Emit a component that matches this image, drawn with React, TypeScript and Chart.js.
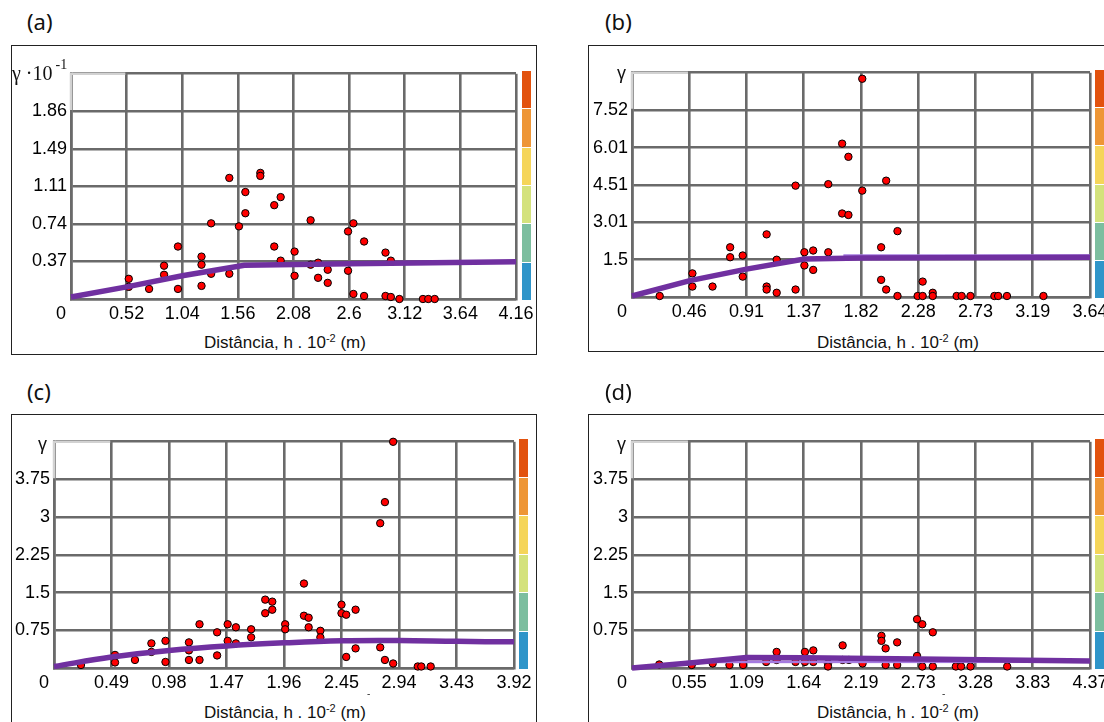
import React, { useEffect, useRef } from "react";
import { Chart, registerables } from "chart.js";
Chart.register(...registerables);

// ---------------- DATA ----------------
// Panel (a)
const aXTicks = [0, 0.52, 1.04, 1.56, 2.08, 2.6, 3.12, 3.64, 4.16];
const aXLabels = ["0", "0.52", "1.04", "1.56", "2.08", "2.6", "3.12", "3.64", "4.16"];
const aYTicks = [0, 0.372, 0.744, 1.116, 1.488, 1.86, 2.232];
const aYLabels = ["", "0.37", "0.74", "1.11", "1.49", "1.86", ""];
const aPtX = [0.54, 0.54, 0.73, 0.87, 0.87, 1.0, 1.0, 1.22, 1.22, 1.22, 1.31, 1.31, 1.48, 1.48, 1.57, 1.63, 1.63, 1.77, 1.77, 1.9, 1.96, 1.9, 1.96, 2.09, 2.09, 2.24, 2.24, 2.31, 2.31, 2.4, 2.4, 2.59, 2.64, 2.59, 2.64, 2.74, 2.74, 2.94, 2.99, 2.94, 2.99, 3.07, 3.29, 3.34, 3.4];
const aPtY = [0.2, 0.12, 0.1, 0.33, 0.24, 0.52, 0.1, 0.42, 0.34, 0.13, 0.25, 0.75, 1.2, 0.25, 0.72, 1.06, 0.85, 1.25, 1.22, 0.93, 1.01, 0.52, 0.38, 0.47, 0.23, 0.78, 0.34, 0.36, 0.21, 0.29, 0.16, 0.67, 0.75, 0.28, 0.05, 0.57, 0.03, 0.46, 0.38, 0.03, 0.02, 0.0, 0.0, 0.0, 0.0];
const aModelX = [0, 0.52, 1.04, 1.62, 2.6, 4.16];
const aModelY = [0.02, 0.12, 0.23, 0.335, 0.35, 0.37];
const aModel2X: number[] = [];
const aModel2Y: number[] = [];

// Panel (b)
const bXTicks = [0, 0.455, 0.91, 1.365, 1.82, 2.275, 2.73, 3.185, 3.64];
const bXLabels = ["0", "0.46", "0.91", "1.37", "1.82", "2.28", "2.73", "3.19", "3.64"];
const bYTicks = [0, 1.503, 3.007, 4.51, 6.013, 7.517, 9.02];
const bYLabels = ["", "1.5", "3.01", "4.51", "6.01", "7.52", ""];
const bPtX = [0.22, 0.48, 0.48, 0.64, 0.78, 0.78, 0.88, 0.88, 1.07, 1.07, 1.07, 1.15, 1.15, 1.3, 1.3, 1.37, 1.37, 1.44, 1.44, 1.56, 1.56, 1.67, 1.67, 1.72, 1.72, 1.83, 1.83, 2.02, 1.98, 1.98, 2.02, 2.11, 2.11, 2.27, 2.31, 2.31, 2.39, 2.39, 2.58, 2.62, 2.69, 2.88, 2.91, 2.98, 3.27];
const bPtY = [0.04, 0.95, 0.42, 0.42, 2.0, 1.6, 1.67, 0.82, 2.52, 0.42, 0.3, 1.5, 0.17, 4.48, 0.3, 1.8, 1.27, 1.87, 1.09, 4.54, 1.8, 6.17, 3.36, 5.64, 3.3, 8.78, 4.28, 4.68, 2.0, 0.69, 0.3, 2.65, 0.04, 0.04, 0.04, 0.62, 0.17, 0.04, 0.04, 0.04, 0.04, 0.04, 0.04, 0.04, 0.04];
const bModelX = [0, 0.46, 0.91, 1.37, 1.82, 3.64];
const bModelY = [0.04, 0.66, 1.12, 1.53, 1.57, 1.6];
const bModel2X = [1.68, 3.64];
const bModel2Y = [1.67, 1.67];

// Panel (c)
const cXTicks = [0, 0.49, 0.98, 1.47, 1.96, 2.45, 2.94, 3.43, 3.92];
const cXLabels = ["0", "0.49", "0.98", "1.47", "1.96", "2.45", "2.94", "3.43", "3.92"];
const cYTicks = [0, 0.75, 1.5, 2.25, 3, 3.75, 4.5];
const cYLabels = ["", "0.75", "1.5", "2.25", "3", "3.75", ""];
const cPtX = [0.23, 0.52, 0.52, 0.69, 0.83, 0.83, 0.95, 0.95, 1.15, 1.15, 1.15, 1.24, 1.24, 1.39, 1.39, 1.48, 1.48, 1.55, 1.55, 1.68, 1.68, 1.8, 1.8, 1.86, 1.86, 1.97, 1.97, 2.13, 2.13, 2.17, 2.17, 2.27, 2.27, 2.45, 2.45, 2.49, 2.49, 2.57, 2.57, 2.78, 2.78, 2.82, 2.82, 2.89, 2.89, 3.1, 3.13, 3.21];
const cPtY = [0.06, 0.26, 0.11, 0.16, 0.49, 0.32, 0.54, 0.12, 0.51, 0.35, 0.16, 0.87, 0.16, 0.71, 0.25, 0.87, 0.54, 0.81, 0.49, 0.77, 0.61, 1.36, 1.09, 1.32, 1.16, 0.87, 0.77, 1.68, 1.04, 1.0, 0.81, 0.74, 0.61, 1.26, 1.09, 1.06, 0.22, 1.16, 0.39, 2.88, 0.41, 3.3, 0.16, 4.5, 0.09, 0.03, 0.03, 0.03];
const cModelX = [0, 0.49, 0.98, 1.47, 1.96, 2.45, 2.94, 3.43, 3.92];
const cModelY = [0.03, 0.22, 0.35, 0.44, 0.5, 0.54, 0.545, 0.53, 0.52];
const cModel2X: number[] = [];
const cModel2Y: number[] = [];

// Panel (d)
const dXTicks = [0, 0.54625, 1.0925, 1.63875, 2.185, 2.73125, 3.2775, 3.82375, 4.37];
const dXLabels = ["0", "0.55", "1.09", "1.64", "2.19", "2.73", "3.28", "3.83", "4.37"];
const dYTicks = [0, 0.75, 1.5, 2.25, 3, 3.75, 4.5];
const dYLabels = ["", "0.75", "1.5", "2.25", "3", "3.75", ""];
const dPtX = [0.26, 0.57, 0.77, 0.93, 1.06, 1.06, 1.28, 1.38, 1.38, 1.56, 1.65, 1.65, 1.73, 1.73, 1.87, 1.87, 2.01, 2.01, 2.07, 2.2, 2.38, 2.38, 2.42, 2.42, 2.53, 2.53, 2.72, 2.77, 2.72, 2.77, 2.87, 2.87, 3.09, 3.14, 3.23, 3.58];
const dPtY = [0.07, 0.06, 0.09, 0.06, 0.11, 0.06, 0.12, 0.32, 0.16, 0.12, 0.32, 0.12, 0.35, 0.12, 0.09, 0.03, 0.45, 0.16, 0.16, 0.09, 0.64, 0.54, 0.39, 0.06, 0.51, 0.06, 0.97, 0.87, 0.24, 0.03, 0.71, 0.03, 0.03, 0.03, 0.03, 0.03];
const dModelX = [0, 0.55, 1.09, 1.64, 2.73, 4.37];
const dModelY = [0, 0.1, 0.21, 0.205, 0.18, 0.14];
const dModel2X = [0.52, 4.37];
const dModel2Y = [0.12, 0.125];

const panelLetters = ["(a)", "(b)", "(c)", "(d)"];
const xTitleMain = "Distância, h . 10";
const xTitleSup = "-2";
const xTitleEnd = " (m)";

// ---------------- STYLE / LAYOUT ----------------
const SANS = '"Liberation Sans", Arial, sans-serif';
const SERIF = '"Liberation Serif", "Times New Roman", serif';
const GRID = "#6a6a6a";
const PURPLE = "#7030A0";
const PURPLE_LIGHT = "#A57BE0";
const CB_COLORS = ["#E2520E", "#EE9636", "#F5D55A", "#D4E27C", "#7CBE9F", "#2F95C9"];
const YW = 50;
const XH = 30;
const PADT = 12;
const PADR = 22;

type PanelCfg = {
  id: number;
  L: number; T: number; R: number; B: number;
  box: { x: number; y: number; w: number; h: number };
  label: { x: number; y: number };
  cbX: number; cbW: number;
  xTitleCx: number; xTitleCy: number;
  yTitle: { x: number; y: number; serif: boolean };
  dash?: { x: number; y: number };
  xTicks: number[]; xLabels: string[]; yTicks: number[]; yLabels: string[];
  ptX: number[]; ptY: number[]; mX: number[]; mY: number[]; m2X: number[]; m2Y: number[]; tension: number;
};

const PANELS: PanelCfg[] = [
  {
    id: 0, L: 71, T: 71, R: 516, B: 299,
    box: { x: 11, y: 45, w: 526, h: 310 }, label: { x: 27, y: 8 },
    cbX: 522, cbW: 9, xTitleCx: 285, xTitleCy: 343,
    yTitle: { x: 12, y: 63, serif: true },
    xTicks: aXTicks, xLabels: aXLabels, yTicks: aYTicks, yLabels: aYLabels,
    ptX: aPtX, ptY: aPtY, mX: aModelX, mY: aModelY, m2X: aModel2X, m2Y: aModel2Y, tension: 0,
  },
  {
    id: 1, L: 632, T: 70, R: 1090, B: 297,
    box: { x: 588, y: 45, w: 560, h: 307 }, label: { x: 605, y: 8 },
    cbX: 1095, cbW: 10, xTitleCx: 898, xTitleCy: 343,
    yTitle: { x: 617, y: 63, serif: false },
    xTicks: bXTicks, xLabels: bXLabels, yTicks: bYTicks, yLabels: bYLabels,
    ptX: bPtX, ptY: bPtY, mX: bModelX, mY: bModelY, m2X: bModel2X, m2Y: bModel2Y, tension: 0,
  },
  {
    id: 2, L: 54, T: 439, R: 514, B: 668,
    box: { x: 11, y: 414, w: 526, h: 400 }, label: { x: 27, y: 378 },
    cbX: 519, cbW: 9, xTitleCx: 285, xTitleCy: 713,
    yTitle: { x: 38, y: 434, serif: false }, dash: { x: 370, y: 695 },
    xTicks: cXTicks, xLabels: cXLabels, yTicks: cYTicks, yLabels: cYLabels,
    ptX: cPtX, ptY: cPtY, mX: cModelX, mY: cModelY, m2X: cModel2X, m2Y: cModel2Y, tension: 0.4,
  },
  {
    id: 3, L: 632, T: 439, R: 1090, B: 668,
    box: { x: 588, y: 414, w: 560, h: 400 }, label: { x: 605, y: 378 },
    cbX: 1095, cbW: 10, xTitleCx: 898, xTitleCy: 713,
    yTitle: { x: 617, y: 434, serif: false }, dash: { x: 945, y: 695 },
    xTicks: dXTicks, xLabels: dXLabels, yTicks: dYTicks, yLabels: dYLabels,
    ptX: dPtX, ptY: dPtY, mX: dModelX, mY: dModelY, m2X: dModel2X, m2Y: dModel2Y, tension: 0,
  },
];

const cornerPlugin = {
  id: "cornerLight",
  beforeDatasetsDraw(chart: any) {
    const { ctx, chartArea, scales } = chart;
    const xs = scales.x;
    const ys = scales.y;
    const xt = xs.ticks;
    const yt = ys.ticks;
    ctx.save();
    ctx.strokeStyle = "#d2d2d2";
    ctx.lineWidth = 2.5;
    ctx.beginPath();
    ctx.moveTo(chartArea.left - 1, chartArea.top);
    ctx.lineTo(xs.getPixelForValue(xt[1].value) - 1.3, chartArea.top);
    ctx.moveTo(chartArea.left, chartArea.top - 1);
    ctx.lineTo(chartArea.left, ys.getPixelForValue(yt[yt.length - 2].value) - 1.3);
    ctx.stroke();
    ctx.restore();
  },
};

function Panel({ p }: { p: PanelCfg }) {
  const ref = useRef<HTMLCanvasElement | null>(null);
  const cw = YW + (p.R - p.L) + PADR;
  const ch = PADT + (p.B - p.T) + XH;

  useEffect(() => {
    if (!ref.current) return;
    const xMax = p.xTicks[p.xTicks.length - 1];
    const yMax = p.yTicks[p.yTicks.length - 1];
    const tickFont = { family: SANS, size: 18 };
    const chart = new Chart(ref.current, {
      type: "scatter",
      data: {
        datasets: [
          {
            data: p.mX.map((x, i) => ({ x, y: p.mY[i] })),
            showLine: true,
            pointRadius: 0,
            borderColor: PURPLE,
            backgroundColor: PURPLE,
            borderWidth: 5.5,
            tension: p.tension,
            clip: false,
            order: 0,
          } as any,
          {
            data: p.m2X.map((x, i) => ({ x, y: p.m2Y[i] })),
            showLine: true,
            pointRadius: 0,
            borderColor: PURPLE_LIGHT,
            backgroundColor: PURPLE_LIGHT,
            borderWidth: 2.5,
            clip: false,
            order: 1,
          } as any,
          {
            data: p.ptX.map((x, i) => ({ x, y: p.ptY[i] })),
            showLine: false,
            pointRadius: 3.7,
            pointBackgroundColor: "#ff0000",
            backgroundColor: "#ff0000",
            pointBorderColor: "#000000",
            borderColor: "#000000",
            pointBorderWidth: 1,
            clip: false,
            order: 2,
          } as any,
        ],
      },
      options: {
        animation: false,
        responsive: false,
        maintainAspectRatio: false,
        layout: { padding: { left: 0, top: PADT, right: PADR, bottom: 0 } },
        plugins: { legend: { display: false }, tooltip: { enabled: false } },
        scales: {
          x: {
            type: "linear",
            min: 0,
            max: xMax,
            afterBuildTicks: (s: any) => {
              s.ticks = p.xTicks.map((v) => ({ value: v }));
            },
            afterFit: (s: any) => {
              s.height = XH;
            },
            ticks: {
              autoSkip: false,
              maxRotation: 0,
              minRotation: 0,
              padding: 4,
              color: "#000",
              font: tickFont,
              callback: (_v: any, i: number) => (i === 0 ? p.xLabels[0] + "    " : p.xLabels[i]),
            },
            grid: { color: GRID, lineWidth: 2.6, drawTicks: false },
            border: { color: GRID, width: 2.6 },
          },
          y: {
            type: "linear",
            min: 0,
            max: yMax,
            afterBuildTicks: (s: any) => {
              s.ticks = p.yTicks.map((v) => ({ value: v }));
            },
            afterFit: (s: any) => {
              s.width = YW;
            },
            ticks: {
              autoSkip: false,
              padding: 4,
              color: "#000",
              font: tickFont,
              callback: (_v: any, i: number) => p.yLabels[i],
            },
            grid: { color: GRID, lineWidth: 2.6, drawTicks: false },
            border: { color: GRID, width: 2.6 },
          },
        },
      } as any,
      plugins: [cornerPlugin],
    });
    return () => chart.destroy();
  }, []);

  return (
    <>
      <div
        style={{
          position: "absolute",
          left: p.box.x,
          top: p.box.y,
          width: p.box.w,
          height: p.box.h,
          border: "1px solid #222",
          boxSizing: "border-box",
        }}
      />
      <div
        style={{
          position: "absolute",
          left: p.label.x,
          top: p.label.y,
          fontFamily: '"Noto Sans", sans-serif',
          fontSize: 22,
          lineHeight: "26px",
          color: "#111",
        }}
      >
        {panelLetters[p.id]}
      </div>
      <canvas
        ref={ref}
        width={cw}
        height={ch}
        style={{ position: "absolute", left: p.L - YW, top: p.T - PADT, width: cw, height: ch }}
      />
      <div
        style={{
          position: "absolute",
          left: p.cbX,
          top: p.T,
          width: p.cbW,
          height: p.B - p.T + 1,
          display: "flex",
          flexDirection: "column",
          gap: 1,
        }}
      >
        {CB_COLORS.map((c) => (
          <div key={c} style={{ flex: 1, background: c }} />
        ))}
      </div>
      <div
        style={{
          position: "absolute",
          left: p.xTitleCx,
          top: p.xTitleCy - 10,
          transform: "translateX(-50%)",
          whiteSpace: "nowrap",
          fontFamily: SANS,
          fontSize: 17,
          lineHeight: "20px",
          color: "#111",
        }}
      >
        {xTitleMain}
        <span style={{ fontSize: 11, position: "relative", top: -6 }}>{xTitleSup}</span>
        {xTitleEnd}
      </div>
      {p.yTitle.serif ? (
        <div
          style={{
            position: "absolute",
            left: p.yTitle.x,
            top: p.yTitle.y,
            whiteSpace: "nowrap",
            fontFamily: SERIF,
            fontSize: 20,
            lineHeight: "20px",
            color: "#111",
          }}
        >
          γ ·10
          <span style={{ fontSize: 14, position: "relative", top: -11, marginLeft: 3 }}>-1</span>
        </div>
      ) : (
        <div
          style={{
            position: "absolute",
            left: p.yTitle.x,
            top: p.yTitle.y,
            fontFamily: SANS,
            fontSize: 18,
            lineHeight: "20px",
            color: "#111",
          }}
        >
          γ
        </div>
      )}
      {p.dash ? (
        <div
          style={{
            position: "absolute",
            left: p.dash.x - 3,
            top: p.dash.y - 7,
            fontFamily: SANS,
            fontSize: 10,
            lineHeight: "12px",
            color: "#333",
          }}
        >
          -
        </div>
      ) : null}
    </>
  );
}

export default function App() {
  return (
    <div
      style={{
        position: "absolute",
        left: 0,
        top: 0,
        width: 1104,
        height: 722,
        overflow: "hidden",
        background: "#fff",
      }}
    >
      {PANELS.map((p) => (
        <Panel key={p.id} p={p} />
      ))}
    </div>
  );
}
